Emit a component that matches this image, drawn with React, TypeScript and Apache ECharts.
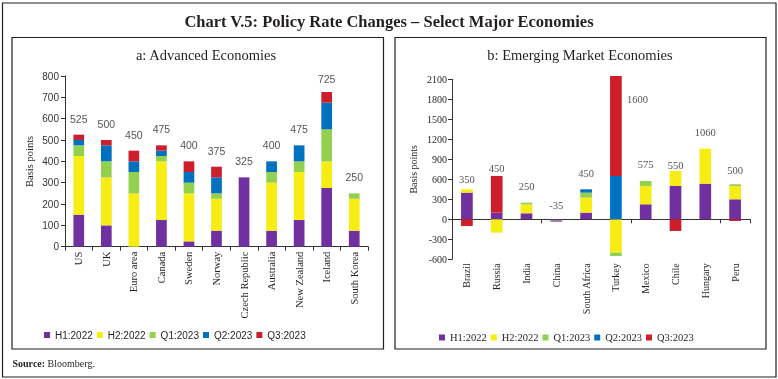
import React, { useEffect, useRef } from "react";
import * as echarts from "echarts";

// ---------- Data ----------
const seriesNames = ["H1:2022", "H2:2022", "Q1:2023", "Q2:2023", "Q3:2023"];

const aeCategories = ["US", "UK", "Euro area", "Canada", "Sweden", "Norway", "Czech Republic", "Australia", "New Zealand", "Iceland", "South Korea"];
const aeH1 = [150, 100, 0, 125, 25, 75, 325, 75, 125, 275, 75];
const aeH2 = [275, 225, 250, 275, 225, 150, 0, 225, 225, 125, 150];
const aeQ1 = [50, 75, 100, 25, 50, 25, 0, 50, 50, 150, 25];
const aeQ2 = [25, 75, 50, 25, 50, 75, 0, 50, 75, 125, 0];
const aeQ3 = [25, 25, 50, 25, 50, 50, 0, 0, 0, 50, 0];

const emCategories = ["Brazil", "Russia", "India", "China", "South Africa", "Turkey", "Mexico", "Chile", "Hungary", "Peru"];
const emH1 = [400, 100, 90, -10, 100, 0, 225, 500, 535, 300];
const emH2 = [50, -200, 135, -5, 225, -500, 275, 225, 525, 200];
const emQ1 = [0, 0, 25, 0, 75, -50, 75, 0, 0, 25];
const emQ2 = [0, 0, 0, -10, 50, 650, 0, 0, 0, 0];
const emQ3 = [-100, 550, 0, -10, 0, 1500, 0, -175, 0, -25];

const aeTicks = { min: 0, max: 800, interval: 100 };
const emTicks = { min: -600, max: 2100, interval: 300 };

// ---------- Styles ----------
const colors = ["#7030A0", "#F7EC13", "#92D050", "#0070C0", "#CC1F2B"];
const serif = "Liberation Serif";
const sans = "Liberation Sans";
const ink = "#231f20";

const aeSeries = [aeH1, aeH2, aeQ1, aeQ2, aeQ3];
const emSeries = [emH1, emH2, emQ1, emQ2, emQ3];

function totals(s: number[][]) {
  return s[0].map((_, i) => s.reduce((a, arr) => a + arr[i], 0));
}
function posTops(s: number[][]) {
  return s[0].map((_, i) => s.reduce((a, arr) => a + Math.max(0, arr[i]), 0));
}

// label distance tweaks (style only)
const aeLabelDist: Record<string, number> = { Iceland: 7 };
const emLabelDist: Record<string, number> = { Brazil: 4, Russia: 1, China: 8, Chile: -1, Peru: 8 };

export default function App() {
  const ref = useRef<HTMLDivElement>(null);
  useEffect(() => {
    if (!ref.current) return;
    const chart = echarts.init(ref.current, undefined, { renderer: "svg" });
    const aeTot = totals(aeSeries);
    const aeTop = posTops(aeSeries);
    const emTot = totals(emSeries);
    const emTop = posTops(emSeries);

    const bars: any[] = [];
    seriesNames.forEach((name, k) => {
      bars.push({
        name,
        type: "bar",
        stack: "ae",
        xAxisIndex: 0,
        yAxisIndex: 0,
        barWidth: 10.7,
        itemStyle: { color: colors[k] },
        data: aeSeries[k],
      });
      bars.push({
        name,
        type: "bar",
        stack: "em",
        xAxisIndex: 1,
        yAxisIndex: 1,
        barWidth: 11.7,
        clip: false,
        itemStyle: { color: colors[k] },
        data: emSeries[k],
      });
    });

    const aeLabels = {
      type: "scatter",
      xAxisIndex: 0,
      yAxisIndex: 0,
      symbolSize: 1,
      itemStyle: { color: "rgba(0,0,0,0)" },
      silent: true,
      z: 10,
      data: aeTop.map((v, i) => ({
        value: v,
        label: {
          show: true,
          position: "top",
          distance: aeLabelDist[aeCategories[i]] ?? 10,
          formatter: String(aeTot[i]),
          fontFamily: sans,
          fontSize: 10.5,
          color: ink,
        },
      })),
    };
    const emLabels = {
      type: "scatter",
      xAxisIndex: 1,
      yAxisIndex: 1,
      symbolSize: 1,
      clip: false,
      itemStyle: { color: "rgba(0,0,0,0)" },
      silent: true,
      z: 10,
      data: emTop.map((v, i) => {
        const isTurkey = emCategories[i] === "Turkey";
        return {
          value: v,
          label: {
            show: true,
            position: isTurkey ? "right" : "top",
            distance: isTurkey ? 10.5 : emLabelDist[emCategories[i]] ?? 10,
            offset: isTurkey ? [0, 24] : [0, 0],
            formatter: String(emTot[i]),
            fontFamily: serif,
            fontSize: 10.5,
            color: ink,
          },
        };
      }),
    };

    const legendBase = {
      data: seriesNames,
      orient: "horizontal",
      icon: "rect",
      itemWidth: 6,
      itemHeight: 6,
      itemGap: 4,
      selectedMode: false,
    };

    chart.setOption({
      animation: false,
      graphic: [
        { type: "rect", shape: { x: 2.5, y: 3, width: 773.5, height: 374 }, style: { fill: "none", stroke: ink, lineWidth: 1.2 } },
        { type: "rect", shape: { x: 12, y: 37.5, width: 371.5, height: 311.5 }, style: { fill: "none", stroke: ink, lineWidth: 1.2 } },
        { type: "rect", shape: { x: 395, y: 37.5, width: 371, height: 311.5 }, style: { fill: "none", stroke: ink, lineWidth: 1.2 } },
        {
          type: "text",
          x: 389,
          y: 21,
          style: { text: "Chart V.5: Policy Rate Changes – Select Major Economies", fontFamily: serif, fontWeight: "bold", fontSize: 16.5, fill: ink, align: "center", verticalAlign: "middle" },
        },
        {
          type: "text",
          x: 206,
          y: 55,
          style: { text: "a: Advanced Economies", fontFamily: serif, fontSize: 14.5, fill: ink, align: "center", verticalAlign: "middle" },
        },
        {
          type: "text",
          x: 580,
          y: 55,
          style: { text: "b: Emerging Market Economies", fontFamily: serif, fontSize: 14.5, fill: ink, align: "center", verticalAlign: "middle" },
        },
        {
          type: "text",
          x: 12.5,
          y: 363,
          style: {
            text: "{b|Source:} Bloomberg.",
            fontFamily: serif,
            fontSize: 10,
            fill: ink,
            verticalAlign: "middle",
            rich: { b: { fontFamily: serif, fontSize: 10, fontWeight: "bold", fill: ink } },
          },
        },
      ],
      legend: [
        { ...legendBase, left: 39, top: 325, textStyle: { fontFamily: sans, fontSize: 10, color: ink, width: 47.5 } },
        { ...legendBase, left: 434, top: 327, textStyle: { fontFamily: serif, fontSize: 10.5, color: ink, width: 46.5 } },
      ],
      grid: [
        { left: 65, right: 410, top: 76, bottom: 132.3 },
        { left: 452, right: 28, top: 79.3, bottom: 119.7 },
      ],
      xAxis: [
        {
          type: "category",
          gridIndex: 0,
          data: aeCategories,
          axisLine: { lineStyle: { color: "#333", width: 1 } },
          axisTick: { show: true, length: 4, lineStyle: { color: "#333" } },
          axisLabel: { interval: 0, rotate: 90, margin: 5, fontFamily: serif, fontSize: 10.5, color: ink },
        },
        {
          type: "category",
          gridIndex: 1,
          data: emCategories,
          axisLine: { onZero: true, lineStyle: { color: "#333", width: 1 } },
          axisTick: { show: true, length: 4, lineStyle: { color: "#333" } },
          axisLabel: { show: false },
        },
        {
          type: "category",
          gridIndex: 1,
          position: "bottom",
          data: emCategories,
          axisLine: { show: false, onZero: false },
          axisTick: { show: false },
          axisLabel: { interval: 0, rotate: 90, margin: 4, fontFamily: serif, fontSize: 10, color: ink },
        },
      ],
      yAxis: [
        {
          type: "value",
          gridIndex: 0,
          ...aeTicks,
          name: "Basis points",
          nameLocation: "middle",
          nameGap: 30,
          nameTextStyle: { fontFamily: serif, fontSize: 10.5, color: ink },
          axisLine: { show: true, lineStyle: { color: "#333", width: 1 } },
          axisTick: { show: true, length: 4, lineStyle: { color: "#333" } },
          splitLine: { show: false },
          axisLabel: { margin: 6, fontFamily: sans, fontSize: 10, color: "#333", formatter: (v: number) => String(v) },
        },
        {
          type: "value",
          gridIndex: 1,
          ...emTicks,
          name: "Basis points",
          nameLocation: "middle",
          nameGap: 34,
          nameTextStyle: { fontFamily: serif, fontSize: 10, color: ink },
          axisLine: { show: true, lineStyle: { color: "#333", width: 1 } },
          axisTick: { show: true, length: 4, lineStyle: { color: "#333" } },
          splitLine: { show: false },
          axisLabel: { margin: 5, fontFamily: serif, fontSize: 10, color: ink, formatter: (v: number) => String(v) },
        },
      ],
      series: [...bars, aeLabels, emLabels],
    });
    return () => chart.dispose();
  }, []);
  return <div ref={ref} style={{ position: "fixed", left: 0, top: 0, width: 778, height: 379 }} />;
}
